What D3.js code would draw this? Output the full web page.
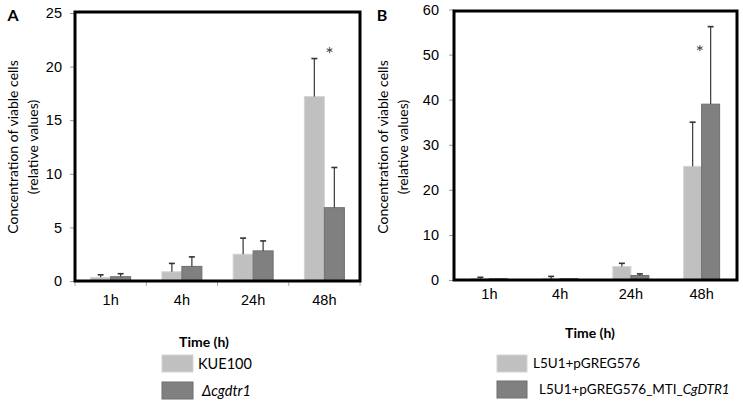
<!DOCTYPE html>
<html>
<head>
<meta charset="utf-8">
<script src="https://cdn.jsdelivr.net/npm/d3@7"></script>
<style>
  body { margin: 0; background: #fff; }
  svg { display: block; font-family: Lato, "Open Sans", sans-serif; }
</style>
</head>
<body>
<svg id="drawing_region"></svg>
<script>
// data
const times = ["1h", "4h", "24h", "48h"];

const seriesA = ["KUE100", "\u0394cgdtr1"];
const kue100 = [0.34, 0.86, 2.5, 17.2];
const kue100Err = [0.24, 0.78, 1.5, 3.55];
const cgdtr1 = [0.4, 1.36, 2.81, 6.84];
const cgdtr1Err = [0.28, 0.89, 0.93, 3.75];
const ticksA = [0, 5, 10, 15, 20, 25];
const starA = { time: "48h", value: 21.9 };

const seriesB = ["L5U1+pGREG576", "L5U1+pGREG576_MTI_"];
const pgreg = [0.3, 0.3, 3.0, 25.2];
const pgregErr = [0.3, 0.5, 0.7, 9.8];
const mti = [0.3, 0.3, 1.0, 39.0];
const mtiErr = [0, 0, 0.35, 17.2];
const ticksB = [0, 10, 20, 30, 40, 50, 60];
const starB = { time: "48h", value: 52.3 };

const colors = ["#c0c0c0", "#808080"];
const strokes = ["#d4d4d4", "#6e6e6e"];

class BarChart {
    constructor(config, data) {
        this.config = config;
        this.data = data;
        this.init();
    }

    init() {
        let self = this;
        const c = self.config;
        self.chart = d3.select(c.parent).append('g');
        self.inner_width = c.right - c.left;

        self.xscale = d3.scaleBand()
            .domain(times)
            .range([c.left, c.right]);
        self.sub = d3.scaleBand()
            .domain([0, 1])
            .range([(self.xscale.bandwidth() - c.group) / 2, (self.xscale.bandwidth() + c.group) / 2]);
        self.yscale = d3.scaleLinear()
            .domain([0, c.ymax])
            .range([c.bottom, c.ytop]);
    }

    render() {
        let self = this;
        const c = self.config;
        const rows = [];
        self.data.forEach((s, si) => {
            s.values.forEach((v, i) => rows.push({ t: times[i], v: v, e: s.err[i], si: si }));
        });

        // y axis ticks
        const yaxis = d3.axisLeft(self.yscale)
            .tickValues(c.ticks)
            .tickSize(5)
            .tickPadding(c.tickPad);
        const ya = self.chart.append('g')
            .attr('transform', `translate(${c.left},0)`)
            .call(yaxis);
        ya.select('.domain').remove();
        ya.selectAll('line').attr('stroke', '#999');
        ya.selectAll('text').attr('font-size', 14.5).attr('fill', '#000');

        // x axis
        const xaxis = d3.axisBottom(self.xscale).tickSize(0).tickPadding(c.xlabPad);
        const xa = self.chart.append('g')
            .attr('transform', `translate(0,${c.bottom})`)
            .call(xaxis);
        xa.select('.domain').remove();
        xa.selectAll('text').attr('font-size', 14.5).attr('fill', '#000');
        if (c.xticks) {
            self.chart.selectAll('.xt')
                .data(times.concat(['end']))
                .join('line')
                .attr('x1', d => d == 'end' ? c.right : self.xscale(d))
                .attr('x2', d => d == 'end' ? c.right : self.xscale(d))
                .attr('y1', c.bottom)
                .attr('y2', c.bottom + 5)
                .attr('stroke', '#aaa');
        }

        // bars
        self.chart.selectAll('.bar')
            .data(rows)
            .join('rect')
            .attr('x', d => self.xscale(d.t) + self.sub(d.si))
            .attr('width', self.sub.bandwidth())
            .attr('y', d => self.yscale(d.v))
            .attr('height', d => self.yscale(0) - self.yscale(d.v))
            .attr('fill', d => colors[d.si])
            .attr('stroke', d => strokes[d.si])
            .attr('stroke-width', 1);

        // error bars (upper only)
        const eb = rows.filter(d => d.e > 0);
        const cx = d => self.xscale(d.t) + self.sub(d.si) + self.sub.bandwidth() / 2;
        self.chart.selectAll('.err')
            .data(eb)
            .join('line')
            .attr('x1', cx).attr('x2', cx)
            .attr('y1', d => self.yscale(d.v))
            .attr('y2', d => self.yscale(d.v + d.e))
            .attr('stroke', '#444')
            .attr('stroke-width', 1.3);
        self.chart.selectAll('.cap')
            .data(eb)
            .join('line')
            .attr('x1', d => cx(d) - 3).attr('x2', d => cx(d) + 3)
            .attr('y1', d => self.yscale(d.v + d.e))
            .attr('y2', d => self.yscale(d.v + d.e))
            .attr('stroke', '#333')
            .attr('stroke-width', 1.6);

        // asterisk
        self.chart.append('text')
            .attr('x', self.xscale(c.star.time) + self.xscale.bandwidth() / 2 + c.starDx)
            .attr('y', self.yscale(c.star.value))
            .attr('dy', '0.75em')
            .attr('text-anchor', 'middle')
            .attr('font-size', 20)
            .attr('fill', '#444')
            .text('*');

        // frame
        self.chart.append('rect')
            .attr('x', c.left)
            .attr('y', c.ftop)
            .attr('width', self.inner_width)
            .attr('height', c.bottom - c.ftop)
            .attr('fill', 'none')
            .attr('stroke', '#000')
            .attr('stroke-width', 3);

        // y title
        const tx = self.chart.append('text')
            .attr('transform', `translate(${c.titleX},147) rotate(-90)`)
            .attr('text-anchor', 'middle')
            .attr('font-size', 14)
            .attr('fill', '#000');
        tx.append('tspan').attr('x', 0).attr('dy', '0.35em').text('Concentration of viable cells');
        tx.append('tspan').attr('x', 0).attr('dy', '1.45em').text('(relative values)');

        // panel letter
        self.chart.append('text')
            .attr('x', c.letterX)
            .attr('y', 21)
            .attr('text-anchor', 'middle')
            .attr('font-size', 16)
            .attr('font-weight', 'bold')
            .text(c.letter);

        // legend
        const lg = c.legend;
        self.chart.append('text')
            .attr('x', lg.titleX)
            .attr('y', lg.titleY)
            .attr('dy', '0.35em')
            .attr('text-anchor', 'middle')
            .attr('font-size', 14)
            .attr('font-weight', 'bold')
            .text('Time (h)');
        const items = self.chart.selectAll('.lg')
            .data(self.data)
            .join('g')
            .attr('transform', (d, i) => `translate(${lg.x},${lg.ys[i]})`);
        items.append('rect')
            .attr('width', lg.w)
            .attr('height', 17)
            .attr('fill', (d, i) => colors[i])
            .attr('stroke', (d, i) => strokes[i]);
        items.append('text')
            .attr('x', (d, i) => lg.textX[i])
            .attr('y', 8.5)
            .attr('dy', '0.35em')
            .attr('font-size', lg.size)
            .attr('fill', '#000')
            .each(function (d) {
                const t = d3.select(this);
                if (d.italic) {
                    t.append('tspan').attr('font-style', 'italic').text(d.name);
                } else {
                    t.append('tspan').text(d.name);
                }
                if (d.suffix) t.append('tspan').attr('font-style', 'italic').text(d.suffix);
            });
    }
}

const svg = d3.select('#drawing_region')
    .attr('width', 743)
    .attr('height', 403);

const chartA = new BarChart({
    parent: '#drawing_region',
    left: 75, right: 360, bottom: 281, ytop: 13, ftop: 12,
    ymax: 25, ticks: ticksA, tickPad: 8, group: 40, xticks: true, xlabPad: 14,
    star: starA, starDx: 5, titleX: 13, letterX: 13, letter: 'A',
    legend: { titleX: 204, titleY: 342, x: 162, ys: [355, 382], w: 31, textX: [36, 40], size: 14.5 }
}, [
    { name: seriesA[0], values: kue100, err: kue100Err },
    { name: seriesA[1], values: cgdtr1, err: cgdtr1Err, italic: true }
]);
chartA.render();

const chartB = new BarChart({
    parent: '#drawing_region',
    left: 454, right: 737, bottom: 280, ytop: 9.5, ftop: 11,
    ymax: 60, ticks: ticksB, tickPad: 10, group: 36, xticks: false, xlabPad: 9,
    star: starB, starDx: -2, titleX: 383, letterX: 382, letter: 'B',
    legend: { titleX: 590, titleY: 333, x: 497, ys: [355, 381], w: 30, textX: [36, 42], size: 13.5 }
}, [
    { name: seriesB[0], values: pgreg, err: pgregErr },
    { name: seriesB[1], values: mti, err: mtiErr, suffix: 'CgDTR1' }
]);
chartB.render();
</script>
</body>
</html>
